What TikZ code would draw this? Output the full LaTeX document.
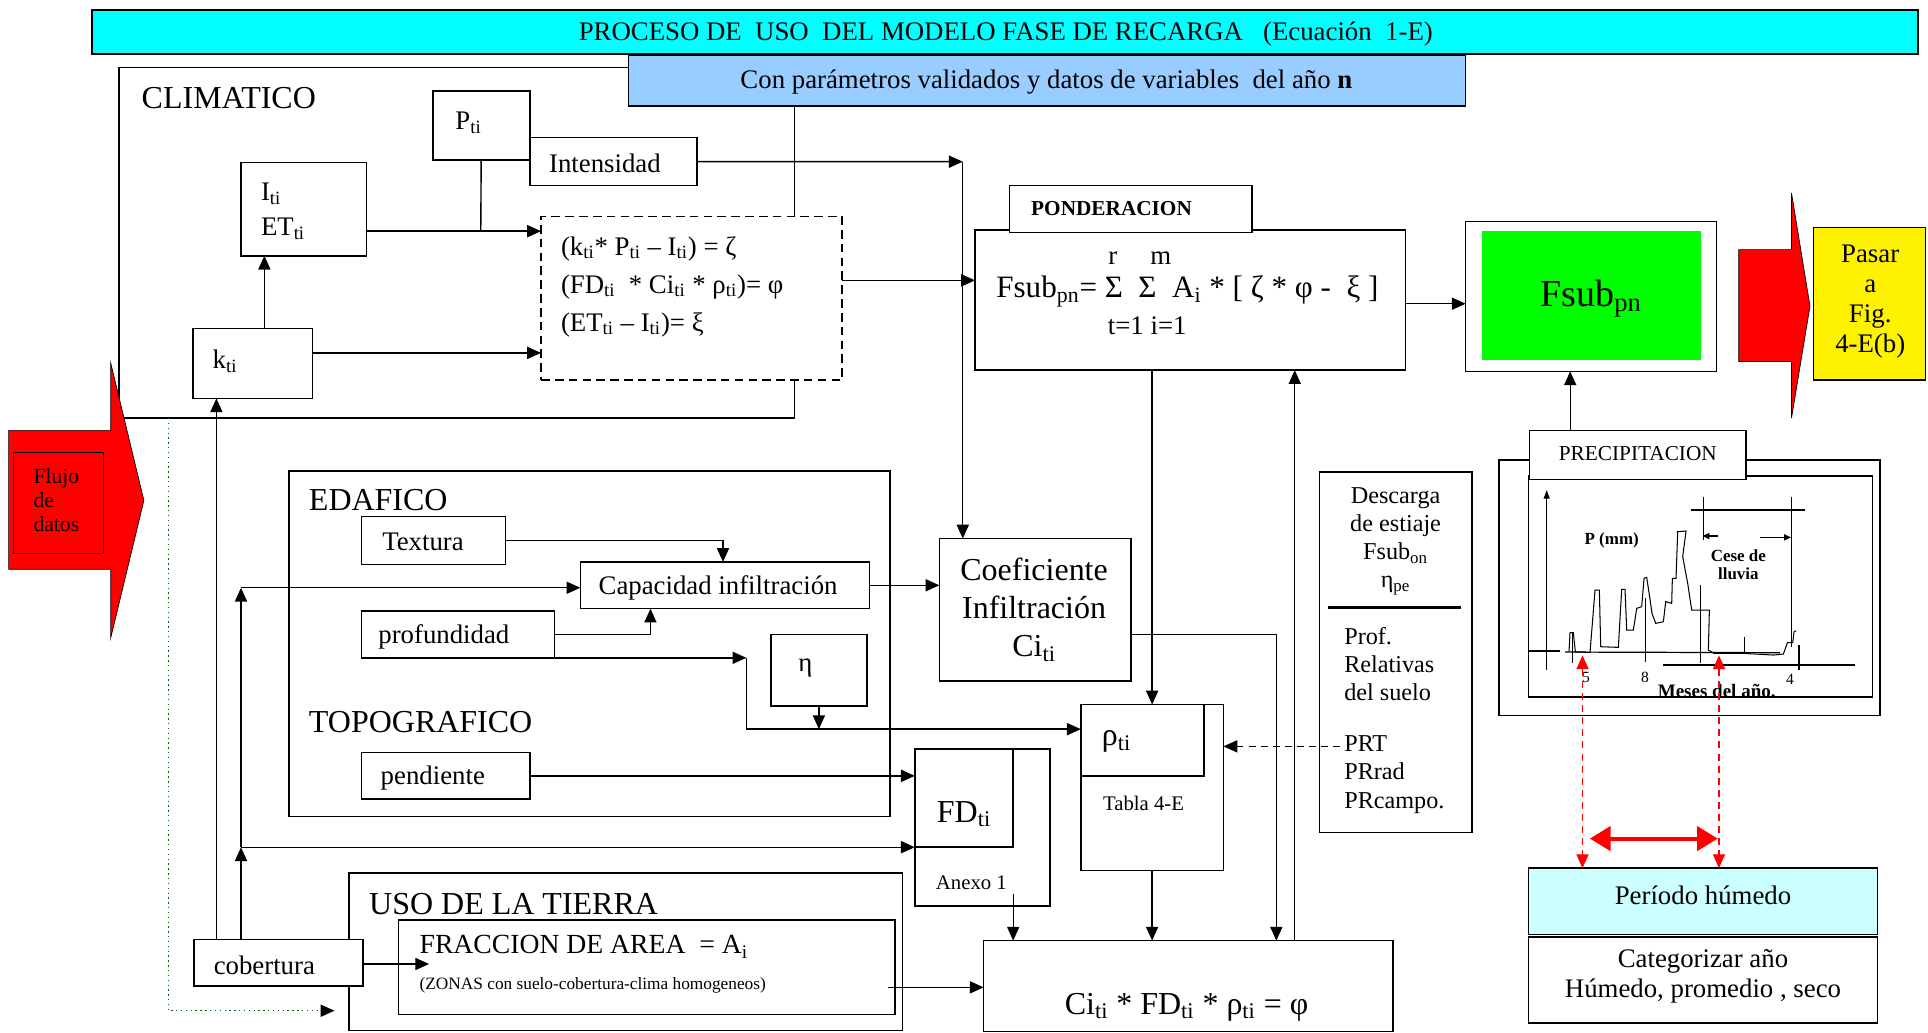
\documentclass[tikz,border=0pt]{standalone}
\usepackage{fontspec}
\setmainfont{Liberation Serif}
\usetikzlibrary{arrows.meta, fit, calc}
\tikzset{>={Triangle[length=8pt,width=7pt]}}
\definecolor{barcyan}{RGB}{0,255,255}
\definecolor{barblue}{RGB}{153,204,255}
\definecolor{fsgreen}{RGB}{0,255,0}
\definecolor{perblue}{RGB}{204,255,255}
\definecolor{dotgreen}{RGB}{0,100,0}
\newcommand{\sti}{\textsubscript{ti}}

\begin{document}
\begin{tikzpicture}[x=0.025cm, y=-0.025cm,
    box/.style={draw, line width=0.9pt, inner sep=0pt, outer sep=0pt},
    txt/.style={inner sep=0pt, font=\fontsize{15.5}{18}\selectfont},
    big/.style={inner sep=0pt, font=\fontsize{18.5}{21}\selectfont},
    sml/.style={inner sep=0pt, font=\fontsize{12}{14}\selectfont},
    chart/.style={inner sep=0pt, font=\bfseries\fontsize{9.8}{10.5}\selectfont},
    link/.style={line width=0.8pt, ->},
    plain/.style={line width=0.8pt},
    reddash/.style={red, line width=0.8pt, dash pattern=on 4pt off 3pt}]
    \useasboundingbox (0,0) rectangle (1568,840);

    % containers
    \node[box, fit={(97,55) (646,340)}] (clim) {};
    \node[box, fit={(235,383) (724,664)}] (edaf) {};
    \node[box, fit={(284,710) (734,838)}] (uso) {};

    % header bars
    \node[box, fill=barcyan, fit={(75,8) (1560,44)}] (title) {};
    \node[txt] (titlet) at (818,28) {PROCESO DE~ USO~ DEL MODELO FASE DE RECARGA~~ (Ecuación~ 1-E)};
    \node[box, fill=barblue, fit={(511,45) (1192,86)}] (param) {};
    \node[txt] (paramt) at (851,67) {Con parámetros validados y datos de variables~ del año \textbf{n}};

    % climatico
    \node[big, anchor=west] (climt) at (115,80) {CLIMATICO};
    \node[box, fit={(352,74) (431,130)}] (pti) {};
    \node[txt] (ptit) at (381,100) {P\sti};
    \node[box, fit={(431,112) (567,151)}] (intens) {};
    \node[txt] (intenst) at (492,133) {Intensidad};
    \node[box, fit={(196,132) (298,208)}] (ieti) {};
    \node[txt, anchor=west, align=left, font=\fontsize{15.5}{20}\selectfont] (ietit) at (212,172) {I\sti\\ET\sti};
    \node[box, fit={(157,267) (254,324)}] (kti) {};
    \node[txt] (ktit) at (183,294) {k\sti};
    \node[box, dash pattern=on 5pt off 3pt, fill=white, fit={(440,176) (685,309)}] (eq) {};
    \node[txt, anchor=west, align=left, font=\fontsize{15.5}{22}\selectfont] (eqt) at (456,233)
        {(k\sti* P\sti{} – I\sti) = ζ\\(FD\sti~ * Ci\sti{} * ρ\sti)= φ\\(ET\sti{} – I\sti)= ξ};

    % ponderacion
    \node[box, fit={(793,187) (1143,301)}] (fsub) {};
    \node[box, fill=white, fit={(821,151) (1018,189)}] (pond) {};
    \node[inner sep=0pt, font=\bfseries\fontsize{12.3}{14}\selectfont] (pondt) at (904,170) {PONDERACION};
    \node[txt] (rmr) at (905,210) {r};
    \node[txt] (rmm) at (944,210) {m};
    \node[inner sep=0pt, anchor=west, font=\fontsize{18}{20}\selectfont] (fsubt) at (810,237)
        {Fsub\textsubscript{pn}= Σ~ Σ~ A\textsubscript{i} * [ ζ * φ -~ ξ ]};
    \node[txt] (tidx) at (933,265) {t=1 i=1};

    \node[box, fit={(1192,180) (1396,302)}] (out) {};
    \node[fill=fsgreen, inner sep=0pt, fit={(1205,188) (1383,293)}] (outg) {};
    \node[inner sep=0pt, font=\fontsize{22}{24}\selectfont] (outt) at (1294,243) {Fsub\textsubscript{pn}};

    \filldraw[fill=red, draw=black, line width=0.4pt] (1414,203) -- (1457,203) -- (1457,157) -- (1472,249)
        -- (1457,340) -- (1457,294) -- (1414,294) -- cycle;
    \node[box, fill=yellow, fit={(1475,185) (1566,309)}] (pasar) {};
    \node[txt, align=center, font=\fontsize{15.5}{17.4}\selectfont] (pasart) at (1521,245) {Pasar\\a\\Fig.\\4-E(b)};

    % edafico y topografico
    \node[big, anchor=west] (edaft) at (251,407) {EDAFICO};
    \node[big, anchor=west] (topot) at (251,587) {TOPOGRAFICO};
    \node[box, fit={(294,420) (411,459)}] (tex) {};
    \node[txt] (texn) at (344,441) {Textura};
    \node[box, fit={(472,457) (707,495)}] (cap) {};
    \node[txt] (capt) at (584,478) {Capacidad infiltración};
    \node[box, fit={(294,497) (451,535)}] (prof) {};
    \node[txt] (proft) at (361,518) {profundidad};
    \node[box, fit={(627,516) (705,574)}] (eta) {};
    \node[txt] (etat) at (655,543) {η};
    \node[box, fit={(294,612) (431,650)}] (pend) {};
    \node[txt] (pendt) at (352,633) {pendiente};

    % coeficiente, FD, rho, phi
    \node[box, fit={(764,438) (920,554)}] (coef) {};
    \node[big, align=center, font=\fontsize{18.5}{22}\selectfont] (coeft) at (841,496) {Coeficiente\\Infiltración\\Ci\sti};
    \node[box, fit={(744,609) (854,737)}] (fd) {};
    \node[box, fit={(744,609) (824,689)}] (fdi) {};
    \node[big] (fdt) at (784,662) {FD\sti};
    \node[sml] (anx) at (790,718) {Anexo 1};
    \node[box, fit={(879,573) (995,708)}] (rho) {};
    \node[box, fit={(879,573) (979,631)}] (rhoi) {};
    \node[big] (rhot) at (908,603) {ρ\sti};
    \node[sml] (tabla) at (930,653) {Tabla 4-E};
    \node[box, fit={(800,765) (1133,839)}] (phi) {};
    \node[big] (phit) at (965,819) {Ci\sti{} * FD\sti{} * ρ\sti{} = φ};

    % uso de la tierra
    \node[big, anchor=west] (usot) at (300,735) {USO DE LA TIERRA};
    \node[box, fit={(324,748) (728,825)}] (frac) {};
    \node[inner sep=0pt, anchor=west, font=\fontsize{16}{18}\selectfont] (fract) at (341,770) {FRACCION DE AREA~ = A\textsubscript{i}};
    \node[inner sep=0pt, anchor=west, font=\fontsize{10}{12}\selectfont] (zonas) at (341,801) {(ZONAS con suelo-cobertura-clima homogeneos)};
    \node[box, fill=white, fit={(158,764) (295,802)}] (cob) {};
    \node[txt] (cobt) at (215,785) {cobertura};

    % descarga
    \node[box, fit={(1073,384) (1197,677)}] (desc) {};
    \draw[line width=1.5pt] (1080,494) -- (1188,494);
    \node[inner sep=0pt, align=center, font=\fontsize{14}{16.3}\selectfont] (desct) at (1135,440)
        {Descarga\\de estiaje\\Fsub\textsubscript{on}\\η\textsubscript{pe}};
    \node[inner sep=0pt, align=left, anchor=west, font=\fontsize{14}{16.3}\selectfont] (relt) at (1093,540)
        {Prof.\\Relativas\\del suelo};
    \node[inner sep=0pt, align=left, anchor=west, font=\fontsize{14}{16.3}\selectfont] (prt) at (1093,630)
        {PRT\\PRrad\\PRcampo.};

    % precipitacion
    \node[box, fit={(1219,374) (1529,582)}] (prec) {};
    \node[box, fill=white, fit={(1243,387) (1523,567)}] (chartb) {};
    \node[box, fill=white, fit={(1244,350) (1420,390)}] (prech) {};
    \node[inner sep=0pt, font=\fontsize{12.3}{14}\selectfont] (precht) at (1332,369) {PRECIPITACION};
    \begin{scope}[shift={(1211.8,366)}, scale=0.2711, line width=0.7pt]
        \draw[-{Triangle[length=5pt,width=3.5pt]}] (170,660) -- (170,120);
        \draw (115,603) -- (210,603);
        \draw (225,606) -- (870,608);
        \draw (520,645) -- (1095,645);
        \foreach \xa/\ya/\yb in {248/545/640, 467/445/635, 632/405/640, 640/140/270,
                                 905/140/590, 927/585/660, 763/560/605}
        \draw (\xa,\ya) -- (\xa,\yb);
        \draw (603,180) -- (945,180);
        \draw[-{Triangle[length=4pt,width=3.5pt]}] (685,258) -- (637,258);
        \draw[-{Triangle[length=4pt,width=3.5pt]}] (810,262) -- (903,262);
        \draw[line width=0.6pt] plot coordinates {(237,605) (240,548) (250,548) (256,606) (300,607)
            (315,420) (328,420) (332,590) (385,592) (395,418) (405,418) (410,540) (430,540)
            (440,475) (455,470) (462,385) (470,382) (478,435) (486,490) (497,520) (520,515)
            (527,455) (545,460) (547,385) (558,385) (563,245) (588,243) (578,320) (593,400)
            (605,480) (658,480) (655,600) (672,610) (760,610) (850,615) (880,612) (892,578)
            (908,578) (912,545) (918,542)};
        \node[chart] (pmm) at (365,272) {P (mm)};
        \node[chart, align=center] (cese) at (745,345) {Cese de\\lluvia};
        \node[chart, font=\fontsize{9}{10}\selectfont] (m5) at (288,682) {5};
        \node[chart, font=\fontsize{9}{10}\selectfont] (m8) at (465,682) {8};
        \node[chart, font=\fontsize{9}{10}\selectfont] (m4) at (900,688) {4};
        \node[chart, font=\bfseries\fontsize{11}{12}\selectfont] (meses) at (680,722) {Meses del año.};
    \end{scope}

    % periodo
    \node[box, fill=perblue, fit={(1243,706) (1527,760)}] (per) {};
    \node[txt] (pert) at (1385,728) {Período húmedo};
    \node[box, fit={(1243,762) (1527,832)}] (cat) {};
    \node[txt, align=center, font=\fontsize{15.5}{17}\selectfont] (catt) at (1385,794) {Categorizar año\\Húmedo, promedio , seco};

    % flujo de datos
    \filldraw[fill=red, draw=black, line width=0.4pt] (7,350) -- (90,350) -- (90,295) -- (117,407)
        -- (90,519) -- (90,463) -- (7,463) -- cycle;
    \node[box, fit={(11,368) (84,450)}] (flujo) {};
    \node[inner sep=0pt, anchor=west, align=left, font=\fontsize{12.5}{13.8}\selectfont] (flujot) at (27,407) {Flujo\\de\\datos};

    % connectors
    \coordinate (j1) at (391,188);
    \draw[plain] (pti) -- (j1);
    \draw[link] (ieti.east |- j1) -- (eq.west |- j1);
    \coordinate (kup) at (215,267);
    \draw[link] (kup) -- (kup |- ieti.south);
    \coordinate (kr) at (254,287);
    \draw[link] (kr) -- (kr -| eq.west);
    \coordinate (c1) at (783,131.5);
    \draw[link] (intens.east) -- (c1);
    \draw[link] (c1) -- (c1 |- coef.north);
    \coordinate (e1) at (685,228);
    \draw[link] (e1) -- (e1 -| fsub.west);
    \coordinate (o1) at (1143,247);
    \draw[link] (o1) -- (o1 -| out.west);
    \draw[link] (fsub.south -| rho.north) -- (rho.north);
    \coordinate (up1) at (1053,765);
    \draw[link] (up1) -- (up1 |- fsub.south);
    \coordinate (up2) at (1277,350);
    \draw[link] (up2) -- (up2 |- out.south);

    \coordinate (t1) at (588,0);
    \draw[link] (tex.east) -| (t1 |- cap.north);
    \coordinate (p1) at (529,0);
    \draw[link] (prof.east) -| (p1 |- cap.south);
    \coordinate (p2) at (607,535);
    \coordinate (p3) at (607,593);
    \draw[link] (prof.south east) -- (p2);
    \draw[link] (p2) -- (p3) -- (p3 -| rho.west);
    \draw[link] (eta.south) -- (eta.south |- p3);
    \draw[link] (pend.east) -- (pend.east -| fd.west);
    \draw[link] (cap.east) -- (cap.east -| coef.west);
    \coordinate (c2) at (1038,516);
    \draw[link] (c2 -| coef.east) -- (c2) -- (c2 |- phi.north);

    \coordinate (v1) at (176,764);
    \draw[link] (v1) -- (v1 |- kti.south);
    \coordinate (v2) at (196,764);
    \coordinate (v3) at (196,689);
    \coordinate (v4) at (196,478);
    \draw[link] (v2) -- (v3);
    \draw[link] (v3) -- (v4);
    \draw[link] (v4) -- (v4 -| cap.west);
    \draw[link] (v3) -- (v3 -| fd.west);
    \coordinate (f1) at (349,784);
    \draw[link] (cob.east |- f1) -- (f1);
    \coordinate (f2) at (722,803);
    \draw[link] (f2) -- (f2 -| phi.west);
    \coordinate (a1) at (824,727);
    \draw[link] (a1) -- (a1 |- phi.north);
    \draw[link] (rho.south) -- (rho.south |- phi.north);

    \coordinate (d1) at (137,340);
    \coordinate (d2) at (272,822);
    \draw[dotgreen, dotted, line width=0.8pt, -{Triangle[length=8pt,width=7pt,color=black]}] (d1) |- (d2);
    \coordinate (prtc) at (1090,607);
    \draw[link, dash pattern=on 4pt off 3pt] (prtc) -- (prtc -| rho.east);

    \coordinate (ra) at (1287,533);
    \coordinate (rb) at (1398,533);
    \draw[reddash, <->] (ra) -- (ra |- per.north);
    \draw[reddash, <->] (rb) -- (rb |- per.north);
    \coordinate (ha) at (1293,682);
    \coordinate (hb) at (1397,682);
    \draw[red, line width=2.3pt, {Triangle[length=12pt,width=14pt]}-{Triangle[length=12pt,width=14pt]}] (ha) -- (hb);
\end{tikzpicture}
\end{document}
